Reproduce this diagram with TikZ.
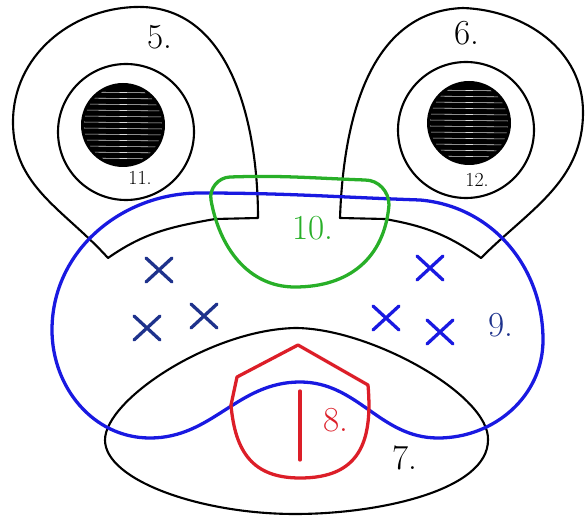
\documentclass[tikz,border=0pt]{standalone}
\usetikzlibrary{positioning}
\definecolor{bluepen}{RGB}{25,25,225}
\definecolor{navypen}{RGB}{30,50,140}
\definecolor{greenpen}{RGB}{40,175,40}
\definecolor{redpen}{RGB}{220,30,40}
\begin{document}
\begin{tikzpicture}[line cap=round,line join=round,x=0.03cm,y=-0.03cm,
	pen/.style={line width=1.8pt},
	fat/.style={line width=2.8pt},
	lab/.style={inner sep=0pt,font=\fontsize{30}{30}\selectfont},
	smalllab/.style={inner sep=0pt,font=\fontsize{17}{17}\selectfont}]
	\useasboundingbox (0,0) rectangle (588,516);
	% eye lids
	\draw[pen] (108,258) to[out=132,in=-90] (13,122) to[out=90,in=182] (135,7)
		to[out=2,in=90] (258,218) -- (215,219) to[out=190,in=35] (108,258) -- cycle;
	\draw[pen] (340,218) to[out=88,in=182] (463,8) to[out=-2,in=90] (583,112)
		to[out=-90,in=45] (481,258) to[out=145,in=-10] (385,219) -- cycle;
	% eyes
	\foreach \ex/\ey/\px/\py in {126/132/123/125, 466/130/469/123}{
		\draw[pen] (\ex,\ey) circle (68);
		\fill (\px,\py) circle (42);
		\begin{scope}
			\clip (\px,\py) circle (39);
			\foreach \k in {-33,-27,...,33}
				\draw[white!85!black,line width=0.5pt] ({\px-42},{\py+\k}) -- ({\px+42},{\py+\k+1});
		\end{scope}
	}
	% mouth
	\draw[pen] (105,440) .. controls (105,400) and (210,330) .. (295,328)
		.. controls (370,328) and (490,395) .. (488,440)
		.. controls (488,490) and (380,514) .. (295,514)
		.. controls (200,514) and (105,480) .. (105,440) -- cycle;
	% head
	\draw[fat,bluepen] (52,330) to[out=90,in=180] (200,193) to[out=0,in=178] (420,200)
		to[out=-5,in=90] (543,340) to[out=-90,in=0] (438,438) to[out=180,in=0] (300,382)
		to[out=180,in=0] (150,438) to[out=180,in=-90] (52,330) -- cycle;
	% nose
	\draw[fat,greenpen] (230,177) to[out=2,in=178] (365,180) to[out=0,in=90] (389,205)
		to[out=-95,in=0,looseness=1.1] (295,287) to[out=180,in=-80] (211,200)
		to[out=100,in=182] (230,177) -- cycle;
	% tongue
	\draw[fat,redpen] (237,377) -- (298,345) -- (368,385) to[out=-85,in=0,looseness=1.3] (300,478)
		to[out=180,in=-85,looseness=1.2] (231,405) -- cycle;
	\draw[fat,redpen] (300,391) -- (300,460);
	% spots
	\foreach \cx/\cy/\col in {159/270/navypen,147/328/navypen,204/316/navypen,430/268/bluepen,386/318/bluepen,440/332/bluepen}{
		\draw[fat,\col,shift={(\cx,\cy)}] (-13,-12)--(13,12) (-13,12)--(13,-12);}
	% labels
	\node[lab] (n5) at (160,37) {5.};
	\node[lab] (n6) at (467,33) {6.};
	\node[smalllab] (n11) at (140,178) {11.};
	\node[smalllab] (n12) at (477,180) {12.};
	\node[lab,text=greenpen] (n10) at (313,228) {10.};
	\node[lab,text=navypen] (n9) at (501,325) {9.};
	\node[lab,text=redpen] (n8) at (336,420) {8.};
	\node[lab] (n7) at (405,458) {7.};
\end{tikzpicture}
\end{document}
